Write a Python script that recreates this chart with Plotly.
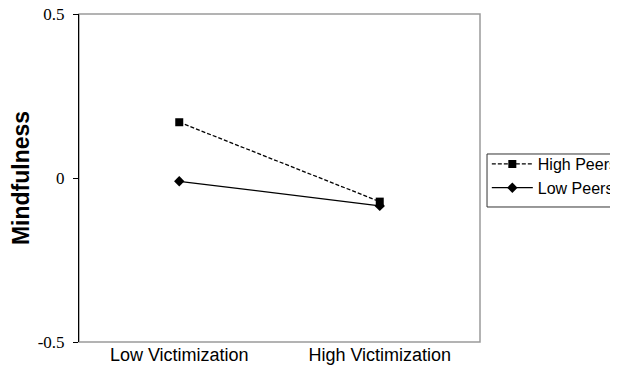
import plotly.graph_objects as go

categories = ["Low Victimization", "High Victimization"]
high_peers = [0.17, -0.072]
low_peers = [-0.01, -0.085]
y_ticks = [-0.5, 0, 0.5]
y_tick_labels = ["-0.5", "0", "0.5"]

fig = go.Figure()
fig.add_trace(go.Scatter(
    x=categories, y=high_peers, name="High Peers", mode="lines+markers",
    line=dict(color="black", width=1.3, dash="4px,2px"),
    marker=dict(symbol="square", size=8, color="black"),
))
fig.add_trace(go.Scatter(
    x=categories, y=low_peers, name="Low Peers", mode="lines+markers",
    line=dict(color="black", width=1.3),
    marker=dict(symbol="diamond", size=8, color="black"),
))

fig.update_layout(
    width=618, height=377,
    margin=dict(l=71, r=146, t=6, b=43, autoexpand=False),
    paper_bgcolor="white", plot_bgcolor="white",
    showlegend=True,
    legend=dict(
        x=1.017, xanchor="left", y=0.5945, yanchor="top",
        borderwidth=0, bgcolor="rgba(0,0,0,0)",
        font=dict(family="Arial, Liberation Sans", size=16, color="black"),
        itemwidth=41, tracegroupgap=2,
    ),
    shapes=[
        dict(type="rect", xref="paper", yref="paper", x0=0, y0=0, x1=1, y1=1,
             line=dict(color="#9a9a9a", width=1.5), layer="below"),
        dict(type="rect", xref="paper", yref="paper", x0=1.0175, y0=0.4116, x1=1.5, y1=0.5732,
             line=dict(color="#333333", width=1), layer="below"),
    ],
)
fig.update_xaxes(
    type="category", range=[-0.5, 1.5], showgrid=False, zeroline=False,
    showline=False, ticks="",
    tickfont=dict(family="Arial, Liberation Sans", size=18, color="black"),
)
fig.update_yaxes(
    range=[-0.5, 0.5], tickvals=y_ticks, ticktext=y_tick_labels,
    showgrid=False, zeroline=False, showline=True, linecolor="black", linewidth=1,
    ticks="outside", ticklen=5, tickcolor="black", ticklabelstandoff=5,
    ticklabeloverflow="allow",
    tickfont=dict(family="Times New Roman, Liberation Serif", size=17, color="black"),
    title=dict(text="<b>Mindfulness</b>", font=dict(family="Arial, Liberation Sans", size=23, color="black"), standoff=14),
)
fig.write_html("out.html")
